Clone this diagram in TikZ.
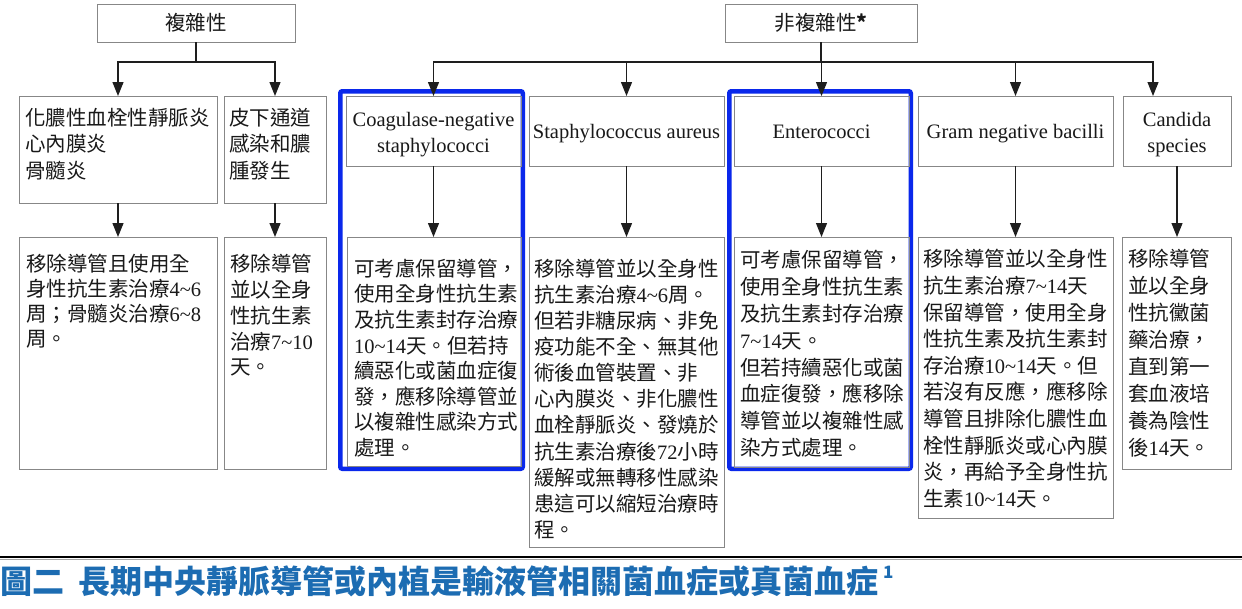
\documentclass[tikz,border=0pt]{standalone}
\usepackage{fontspec}
\setmainfont{Noto Sans CJK TC}
\newfontfamily\latf{Liberation Serif}
\usetikzlibrary{arrows.meta}
\newcommand\LN[1]{{\latf #1}}
\newcommand\TLD{\textasciitilde}
\definecolor{hlblue}{RGB}{10,40,235}
\definecolor{capblue}{RGB}{28,108,178}
\definecolor{boxgray}{RGB}{135,135,135}
\definecolor{ink}{RGB}{25,25,25}
\definecolor{arrowc}{RGB}{30,30,30}
\tikzset{
  box/.style={draw=boxgray, line width=1pt, inner sep=0pt, outer sep=0pt, anchor=north west, text=ink},
  hl/.style={draw=hlblue, line width=4.5pt, rounded corners=2pt, inner sep=0pt, outer sep=0pt, anchor=north west},
  txt/.style={anchor=north west, inner sep=0pt, outer sep=0pt, align=left, text=ink},
  arr/.style={draw=arrowc, line width=1.2pt, -{Triangle[length=14pt,width=11pt]}},
  ln/.style={draw=arrowc, line width=1.2pt},
  cjk/.style={font=\fontsize{20.5pt}{26pt}\selectfont},
  lat/.style={font=\latf\fontsize{20.5pt}{26pt}\selectfont, align=center},
}
\begin{document}
\begin{tikzpicture}[x=1pt,y=-1pt]
\fill[white] (0,0) rectangle (1242,608);
\useasboundingbox (0,0) rectangle (1242,608);

% highlight frames
\node[hl, minimum width=182.5pt, minimum height=377.5pt] (hlA) at (340.25,91.25) {};
\node[hl, minimum width=181.5pt, minimum height=377.5pt] (hlB) at (729.25,91.25) {};

% top boxes
\node[box, cjk, minimum width=198pt, minimum height=38pt] (top1) at (97,4) {複雜性};
\node[box, cjk, minimum width=192pt, minimum height=38pt] (top2) at (725,4) {非複雜性{\bfseries *}};

% second row
\node[box, minimum width=198pt, minimum height=107pt] (b1) at (19,96) {};
\node[box, minimum width=102pt, minimum height=107pt] (b2) at (224,96) {};
\node[box, lat, minimum width=175pt, minimum height=70pt] (c1) at (346,96) {\rule{0pt}{22pt}Coagulase-negative\\staphylococci};
\node[box, lat, minimum width=195pt, minimum height=70pt, text height=14pt, text depth=0pt] (c2) at (529,96) {Staphylococcus aureus};
\node[box, lat, minimum width=175pt, minimum height=70pt, text height=14pt, text depth=0pt] (c3) at (734,96) {Enterococci};
\node[box, lat, minimum width=195pt, minimum height=70pt, text height=14pt, text depth=0pt] (c4) at (918,96) {Gram negative bacilli};
\node[box, lat, minimum width=108pt, minimum height=70pt] (c5) at (1123,96) {\rule{0pt}{22pt}Candida\\species};

\node[txt, font=\fontsize{20.5pt}{26.5pt}\selectfont] (tb1) at (25,105) {\rule{0pt}{20pt}化膿性血栓性靜脈炎\\心內膜炎\\骨髓炎};
\node[txt, font=\fontsize{20.5pt}{26.5pt}\selectfont] (tb2) at (229,105) {\rule{0pt}{20pt}皮下通道\\感染和膿\\腫發生};

% third row
\node[box, minimum width=198pt, minimum height=232pt] (l1) at (19,237) {};
\node[box, minimum width=102pt, minimum height=232pt] (l2) at (224,237) {};
\node[box, minimum width=174pt, minimum height=229pt] (l3) at (347,237) {};
\node[box, minimum width=195pt, minimum height=310pt] (l4) at (529,237) {};
\node[box, minimum width=175pt, minimum height=230pt] (l5) at (734,237) {};
\node[box, minimum width=195pt, minimum height=281pt] (l6) at (918,237) {};
\node[box, minimum width=109pt, minimum height=232pt] (l7) at (1122,237) {};

\node[txt, font=\fontsize{20.5pt}{25pt}\selectfont] (tl1) at (26,251.3) {\rule{0pt}{20pt}移除導管且使用全\\身性抗生素治療\LN{4\TLD6}\\周；骨髓炎治療\LN{6\TLD8}\\周。};
\node[txt, font=\fontsize{20.5pt}{25.9pt}\selectfont] (tl2) at (230,251.3) {\rule{0pt}{20pt}移除導管\\並以全身\\性抗生素\\治療\LN{7\TLD10}\\天。};
\node[txt, font=\fontsize{20.5pt}{25.6pt}\selectfont] (tl3) at (354,256.3) {\rule{0pt}{20pt}可考慮保留導管，\\使用全身性抗生素\\及抗生素封存治療\\\LN{10\TLD14}天。但若持\\續惡化或菌血症復\\發，應移除導管並\\以複雜性感染方式\\處理。};
\node[txt, font=\fontsize{20.5pt}{26.1pt}\selectfont] (tl4) at (534,256.3) {\rule{0pt}{20pt}移除導管並以全身性\\抗生素治療\LN{4\TLD6}周。\\但若非糖尿病、非免\\疫功能不全、無其他\\術後血管裝置、非\\心內膜炎、非化膿性\\血栓靜脈炎、發燒於\\抗生素治療後\LN{72}小時\\緩解或無轉移性感染\\患這可以縮短治療時\\程。};
\node[txt, font=\fontsize{20.5pt}{26.8pt}\selectfont] (tl5) at (740,247.8) {\rule{0pt}{20pt}可考慮保留導管，\\使用全身性抗生素\\及抗生素封存治療\\\LN{7\TLD14}天。\\但若持續惡化或菌\\血症復發，應移除\\導管並以複雜性感\\染方式處理。};
\node[txt, font=\fontsize{20.5pt}{26.6pt}\selectfont] (tl6) at (923,246.8) {\rule{0pt}{20pt}移除導管並以全身性\\抗生素治療\LN{7\TLD14}天\\保留導管，使用全身\\性抗生素及抗生素封\\存治療\LN{10\TLD14}天。但\\若沒有反應，應移除\\導管且排除化膿性血\\栓性靜脈炎或心內膜\\炎，再給予全身性抗\\生素\LN{10\TLD14}天。};
\node[txt, font=\fontsize{20.5pt}{26.9pt}\selectfont] (tl7) at (1128,246.8) {\rule{0pt}{20pt}移除導管\\並以全身\\性抗黴菌\\藥治療，\\直到第一\\套血液培\\養為陰性\\後\LN{14}天。};

% connectors
\coordinate (jA) at (196,62);
\draw[ln] (top1.south) -- (jA);
\draw[arr] (jA) -| (b1.north);
\draw[arr] (jA) -| (b2.north);

\coordinate (jB) at (821,62);
\coordinate (c5in) at ([xshift=-24pt]c5.north);
\draw[ln] (top2.south) -- (jB);
\draw[arr] (jB) -| (c1.north);
\draw[arr] (jB) -| (c2.north);
\draw[arr] (jB) -| (c3.north);
\draw[arr] (jB) -| (c4.north);
\draw[arr] (jB) -| (c5in);

\draw[arr] (b1.south) -- (b1.south |- l1.north);
\draw[arr] (b2.south) -- (b2.south |- l2.north);
\draw[arr] (c1.south) -- (c1.south |- l3.north);
\draw[arr] (c2.south) -- (c2.south |- l4.north);
\draw[arr] (c3.south) -- (c3.south |- l5.north);
\draw[arr] (c4.south) -- (c4.south |- l6.north);
\draw[arr] (c5.south) -- (c5.south |- l7.north);

% separator and caption
\draw[line width=1.6pt, black] (0,557.2) -- (1242,557.2);
\draw[line width=0.8pt, black!35] (0,559.6) -- (1242,559.6);
\node[anchor=base west, inner sep=0pt, text=capblue, font=\bfseries\fontsize{32pt}{32pt}\selectfont] (cap) at (0,593) {圖二\hspace{14pt}長期中央靜脈導管或內植是輸液管相關菌血症或真菌血症};
\node[anchor=base west, inner sep=0pt, text=capblue, font=\bfseries\fontsize{17pt}{17pt}\selectfont] (capsup) at (883,578) {1};
\end{tikzpicture}
\end{document}
